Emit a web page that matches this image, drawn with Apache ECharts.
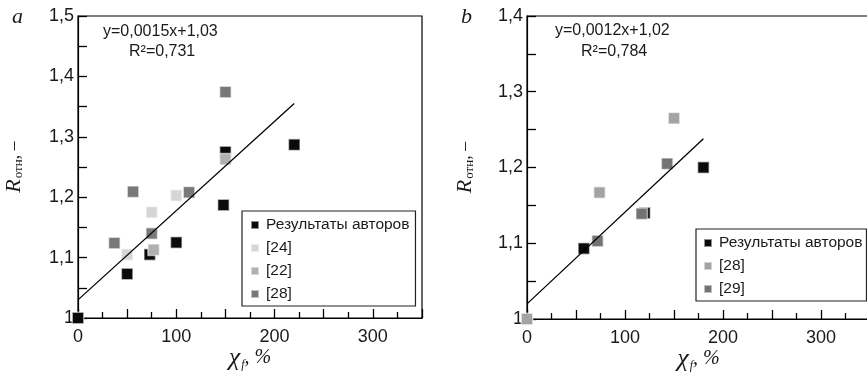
<!DOCTYPE html>
<html><head><meta charset="utf-8">
<script src="https://cdn.jsdelivr.net/npm/echarts@6/dist/echarts.min.js"></script>
<style>html,body{margin:0;padding:0;background:#fff}#c{width:867px;height:372px}</style>
</head><body><div id="c"></div>
<script>
// ---- Panel a data ----
const namesA = ['Результаты авторов', '[24]', '[22]', '[28]'];
const authorsA = [[0, 1.0], [50, 1.073], [73, 1.105], [100, 1.125], [148, 1.187], [150, 1.275], [220, 1.287]];
const ref24A = [[50, 1.105], [75, 1.175], [100, 1.203]];
const ref22A = [[77, 1.113], [150, 1.263]];
const ref28A = [[37, 1.124], [56, 1.209], [75, 1.14], [113, 1.208], [150, 1.374]];
const trendA = [[0, 1.03], [220, 1.355]];
const eqA = ['y=0,0015x+1,03', 'R²=0,731'];
// ---- Panel b data ----
const namesB = ['Результаты авторов', '[28]', '[29]'];
const authorsB = [[58, 1.093], [120, 1.14], [180, 1.2]];
const ref28B = [[0, 1.0], [74, 1.167], [150, 1.265]];
const ref29B = [[72, 1.103], [117, 1.139], [143, 1.205]];
const trendB = [[0, 1.02], [180, 1.238]];
const eqB = ['y=0,0012x+1,02', 'R²=0,784'];
// ---- axes ----
const xMin = 0, xMax = 350, xStep = 50, xLabelStep = 100;
const yMinA = 1, yMaxA = 1.5, yMinB = 1, yMaxB = 1.4, yStep = 0.05, yLabelStep = 0.1;
const panelLetters = ['a', 'b'];

const chart = echarts.init(document.getElementById('c'));
const sans = "'Liberation Sans', Arial, sans-serif";
const serif = "'Liberation Serif', 'Times New Roman', serif";

function yFmt(v) {
  const k = v / yLabelStep;
  if (Math.abs(k - Math.round(k)) > 1e-6) return '';
  const r = Math.round(v * 10) / 10;
  return String(r).replace('.', ',');
}
function xFmt(v) {
  return (Math.abs(v % xLabelStep) < 1e-6) ? String(v) : '';
}
function xAxis(gi) {
  return {
    type: 'value', gridIndex: gi, min: xMin, max: xMax, interval: xStep,
    axisLine: {show: true, onZero: false, lineStyle: {color: '#000', width: 1.2}},
    axisTick: {show: true, inside: true, length: 9, lineStyle: {color: '#000', width: 1.3}},
    minorTick: {show: true, splitNumber: 2, length: 6, lineStyle: {color: '#000', width: 1.3}},
    splitLine: {show: false},
    axisLabel: {formatter: xFmt, fontFamily: sans, fontSize: 18, color: '#1a1a1a', margin: 10, showMaxLabel: false},
    name: '{c|χ}{f|f}{t|, %}', nameLocation: 'middle', nameGap: 27, nameMoveOverlap: false,
    nameTextStyle: {rich: {
      c: {fontFamily: serif, fontStyle: 'italic', fontSize: 26, color: '#1a1a1a'},
      f: {fontFamily: serif, fontStyle: 'italic', fontSize: 12, color: '#1a1a1a', verticalAlign: 'bottom', padding: [10, 0, 0, 1]},
      t: {fontFamily: serif, fontStyle: 'italic', fontSize: 20, color: '#1a1a1a'}
    }}
  };
}
function yAxis(gi, mn, mx, gap) {
  return {
    type: 'value', gridIndex: gi, min: mn, max: mx, interval: yStep,
    axisLine: {show: true, onZero: false, lineStyle: {color: '#000', width: 1.2}},
    axisTick: {show: true, inside: true, length: 9, lineStyle: {color: '#000', width: 1.3}},
    splitLine: {show: false},
    axisLabel: {formatter: yFmt, fontFamily: sans, fontSize: 18, color: '#1a1a1a', margin: 4},
    name: '{r|R}{s|отн}{t|, –}', nameLocation: 'middle', nameGap: gap, nameRotate: 90, nameMoveOverlap: false,
    nameTextStyle: {rich: {
      r: {fontFamily: serif, fontStyle: 'italic', fontSize: 22, color: '#1a1a1a'},
      s: {fontFamily: serif, fontSize: 13, color: '#1a1a1a', padding: [9, 0, 0, 1]},
      t: {fontFamily: serif, fontSize: 18, color: '#1a1a1a'}
    }}
  };
}
const border = {borderColor: 'rgba(255,255,255,0.55)', borderWidth: 1.5};
function sc(name, data, color, xi) {
  return {type: 'scatter', name: name, xAxisIndex: xi, yAxisIndex: xi, data: data,
    symbol: 'rect', symbolSize: 11.5, clip: false,
    itemStyle: Object.assign({color: color, opacity: 1}, border), z: 3};
}
function ln(data, xi) {
  return {type: 'line', xAxisIndex: xi, yAxisIndex: xi, data: data, showSymbol: false,
    symbol: 'none', lineStyle: {color: '#000', width: 1.3}, z: 5, silent: true};
}
const legendText = {fontFamily: sans, fontSize: 15.5, color: '#1a1a1a', padding: [0, 0, 0, 2]};
function txt(x, y, s, font) {
  return {type: 'text', left: x, top: y, style: {text: s, font: font, fill: '#1a1a1a'}};
}

chart.setOption({
  animation: false,
  backgroundColor: '#fff',
  grid: [
    {left: 78, top: 16, width: 344, height: 302, show: true, borderColor: '#000', borderWidth: 1.2,
     backgroundColor: 'transparent', containLabel: false, outerBoundsMode: 'none'},
    {left: 527, top: 16, width: 343, height: 303, show: true, borderColor: '#000', borderWidth: 1.2,
     backgroundColor: 'transparent', containLabel: false, outerBoundsMode: 'none'}
  ],
  xAxis: [xAxis(0), xAxis(1)],
  yAxis: [yAxis(0, yMinA, yMaxA, 53), yAxis(1, yMinB, yMaxB, 51)],
  legend: [
    {data: namesA, left: 242, top: 211, orient: 'vertical', itemWidth: 8, itemHeight: 8, itemGap: 7,
     icon: 'rect', borderColor: '#222', borderWidth: 1.2, padding: [6, 6, 4, 8], textStyle: legendText,
     selectedMode: false},
    {data: namesB.map(n => n + ' '), left: 696, top: 229, orient: 'vertical', itemWidth: 8, itemHeight: 8, itemGap: 7,
     icon: 'rect', borderColor: '#222', borderWidth: 1.2, padding: [6, 4, 4, 7], textStyle: legendText,
     selectedMode: false, formatter: n => n.trim()}
  ],
  series: [
    sc(namesA[0], authorsA, '#0a0a0a', 0),
    sc(namesA[1], ref24A, '#d6d6d6', 0),
    sc(namesA[2], ref22A, '#b0b0b0', 0),
    sc(namesA[3], ref28A, '#787878', 0),
    ln(trendA, 0),
    sc(namesB[0] + ' ', authorsB, '#0a0a0a', 1),
    sc(namesB[1] + ' ', ref28B, '#a3a3a3', 1),
    sc(namesB[2] + ' ', ref29B, '#737373', 1),
    ln(trendB, 1)
  ],
  graphic: [
    txt(103, 24, eqA[0], '16px ' + sans),
    txt(129, 44, eqA[1], '16px ' + sans),
    txt(555, 23, eqB[0], '16px ' + sans),
    txt(581, 44, eqB[1], '16px ' + sans),
    txt(12, 6, panelLetters[0], 'italic 22px ' + serif),
    txt(461, 6, panelLetters[1], 'italic 22px ' + serif)
  ]
});
</script></body></html>
